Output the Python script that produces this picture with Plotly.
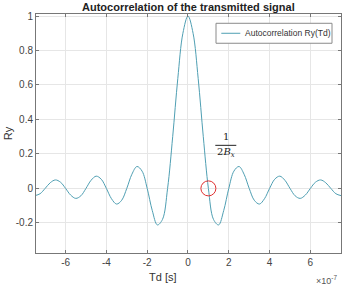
import plotly.graph_objects as go

# Td in units of 1e-7 s (positive half; curve is symmetric)
td_half = [0, 0.25, 0.5, 0.75, 1, 1.25, 1.5, 1.75, 2, 2.25, 2.5, 2.75, 3, 3.25, 3.5, 3.75,
           4, 4.25, 4.5, 4.75, 5, 5.25, 5.5, 5.75, 6, 6.25, 6.5, 6.75, 7, 7.25, 7.5]
ry_half = [1.0, 0.900, 0.637, 0.300, 0.0, -0.180, -0.212, -0.129, 0.0, 0.100, 0.127, 0.082,
           0.0, -0.069, -0.091, -0.060, 0.0, 0.053, 0.071, 0.047, 0.0, -0.043, -0.058, -0.039,
           0.0, 0.036, 0.049, 0.033, 0.0, -0.031, -0.042]
xtick_vals = [-6, -4, -2, 0, 2, 4, 6]
ytick_vals = [-0.2, 0, 0.2, 0.4, 0.6, 0.8, 1]
marker_x = [1.0]   # 1/(2Bx), in 1e-7 s
marker_y = [0.0]
series_name = "Autocorrelation Ry(Td)"
line_color = "#4f9fb3"

td = [-v * 1e-7 for v in td_half[:0:-1]] + [v * 1e-7 for v in td_half]
ry = ry_half[:0:-1] + ry_half

W, H = 346, 288
L, R, T, B = 35.7, 340.7, 14, 253.3

def px(x):
    return (x - L) / (R - L)

def py(y):
    return (B - y) / (B - T)

fig = go.Figure()
fig.add_trace(go.Scatter(x=td, y=ry, mode="lines", line=dict(color=line_color, width=1, shape="spline"),
                         name=series_name, showlegend=False))
fig.add_trace(go.Scatter(x=[v * 1e-7 for v in marker_x], y=marker_y, mode="markers",
                         marker=dict(symbol="circle-open", size=15, color="#e03030", line=dict(width=1)),
                         showlegend=False))

axis_common = dict(showgrid=True, gridcolor="#e6e6e6", gridwidth=1, zeroline=False,
                   showline=True, linecolor="#777777", linewidth=1, mirror="ticks",
                   ticks="inside", ticklen=3, tickcolor="#777777",
                   tickfont=dict(family="Liberation Sans, Arial", size=10, color="#444444"))

fig.update_layout(
    width=W, height=H,
    margin=dict(l=L, r=W - R, t=T, b=H - B, pad=0),
    paper_bgcolor="white", plot_bgcolor="white",
    showlegend=False,
    xaxis=dict(range=[-7.45e-7, 7.5e-7], tickvals=[v * 1e-7 for v in xtick_vals],
               ticktext=[str(v) for v in xtick_vals], **axis_common),
    yaxis=dict(range=[-0.375, 1.012], tickvals=ytick_vals,
               ticktext=["-0.2", "0", "0.2", "0.4", "0.6", "0.8", "1"], **axis_common),
)

def text(t, x, y, size, color="#333333", family="Liberation Sans, Arial", angle=0, xanchor="center"):
    return dict(text=t, x=px(x), y=py(y), xref="paper", yref="paper", showarrow=False,
                xanchor=xanchor, yanchor="middle", textangle=angle,
                font=dict(family=family, size=size, color=color))

ann = [
    text("<b>Autocorrelation of the transmitted signal</b>", 188, 7, 11, "#222222"),
    text("Td [s]", 162.5, 277, 11),
    text("Ry", 8, 133, 11, angle=-90),
    text("×10<sup>-7</sup>", 326, 280, 9, "#555555"),
    text("1", 225.5, 137, 10, "#222222", "DejaVu Serif"),
    text("2<i>B</i><sub><i>x</i></sub>", 225.5, 153, 10, "#222222", "DejaVu Serif"),
    text(series_name, 243, 33.3, 8.5, "#333333", xanchor="left"),
]
fig.update_layout(annotations=ann)
# fraction bar
fig.add_shape(type="line", xref="paper", yref="paper", x0=px(215), x1=px(236), y0=py(145.5), y1=py(145.5),
              line=dict(color="#222222", width=1))
# legend box and sample line
fig.add_shape(type="rect", xref="paper", yref="paper", x0=px(215.7), x1=px(331.7), y0=py(23.3), y1=py(43.3),
              line=dict(color="#8a8a8a", width=1), fillcolor="white", layer="above")
fig.add_shape(type="line", xref="paper", yref="paper", x0=px(221), x1=px(240), y0=py(33.3), y1=py(33.3),
              line=dict(color=line_color, width=1), layer="above")

fig.write_html("out.html")
